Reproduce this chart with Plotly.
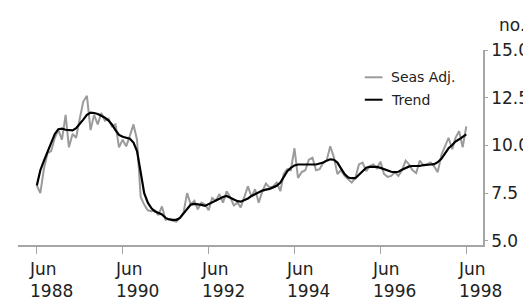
import pandas as pd
import plotly.graph_objects as go

# ---- data -------------------------------------------------------------
start_month = "1988-06-01"
n_months = 121
months = pd.date_range(start_month, periods=n_months, freq="MS")

seas_adj = [
    7.9, 7.5, 8.8, 9.6, 9.7, 10.4, 10.8, 10.3, 11.6, 9.9,
    10.6, 10.4, 11.4, 12.3, 12.6, 10.8, 11.6, 11.1, 11.7, 11.3,
    11.4, 11.0, 11.1, 9.9, 10.3, 9.95, 10.5, 11.1, 10.3, 7.3,
    6.9, 6.6, 6.55, 6.6, 6.35, 6.8, 6.1, 6.15, 6.05, 6.0,
    6.2, 6.5, 7.5, 6.9, 7.1, 6.65, 7.0, 6.9, 6.6, 7.25,
    7.1, 7.45, 7.0, 7.6, 7.3, 6.85, 7.0, 6.75, 7.3, 7.85,
    7.3, 7.7, 7.0, 7.6, 8.0, 7.8, 7.85, 8.05, 7.6, 8.5,
    8.75, 8.7, 9.85, 8.3, 8.6, 8.7, 9.25, 9.35, 8.7, 8.75,
    9.1, 9.2, 9.95, 9.4, 8.5, 8.7, 8.4, 8.2, 8.05, 8.3,
    9.0, 9.1, 8.65, 8.9, 9.0, 8.8, 9.15, 8.5, 8.35, 8.4,
    8.6, 8.4, 8.7, 9.2, 9.0, 8.7, 8.55, 9.2, 8.95, 9.0,
    9.1, 8.9, 8.6, 9.5, 9.9, 10.4, 9.8, 10.4, 10.75, 9.9,
    11.0,
]

trend = [
    7.9, 8.7, 9.2, 9.7, 10.1, 10.6, 10.85, 10.88, 10.82, 10.8,
    10.79, 10.9, 11.1, 11.35, 11.6, 11.72, 11.7, 11.65, 11.55, 11.45,
    11.3, 11.1, 10.8, 10.55, 10.45, 10.4, 10.35, 10.15, 9.7, 8.6,
    7.5, 7.0, 6.7, 6.55, 6.45, 6.38, 6.2, 6.12, 6.1, 6.1,
    6.2, 6.45, 6.65, 6.9, 6.93, 6.92, 6.88, 6.83, 6.92, 7.0,
    7.12, 7.22, 7.3, 7.35, 7.25, 7.17, 7.08, 7.05, 7.12, 7.22,
    7.35, 7.45, 7.55, 7.63, 7.68, 7.72, 7.8, 7.88, 8.05, 8.35,
    8.65, 8.82, 8.95, 9.0, 9.0, 9.0, 9.0, 9.0, 9.0, 9.05,
    9.1, 9.2, 9.27, 9.25, 9.1, 8.8, 8.5, 8.32, 8.28, 8.28,
    8.45, 8.65, 8.83, 8.88, 8.88, 8.87, 8.82, 8.75, 8.68, 8.62,
    8.6, 8.62, 8.72, 8.82, 8.9, 8.92, 8.92, 8.92, 8.97, 9.0,
    9.0, 9.02, 9.12, 9.3, 9.6, 9.85, 10.02, 10.2, 10.32, 10.45,
    10.58,
]

tick_dates = ["1988-06-01", "1990-06-01", "1992-06-01", "1994-06-01",
              "1996-06-01", "1998-06-01"]
tick_labels = ["Jun<br>1988", "Jun<br>1990", "Jun<br>1992", "Jun<br>1994",
               "Jun<br>1996", "Jun<br>1998"]
y_ticks = [5.0, 7.5, 10.0, 12.5, 15.0]

series_names = ["Seas Adj.", "Trend"]
series_colors = ["#9b9b9b", "#000000"]

# ---- figure -----------------------------------------------------------
FONT = "DejaVu Sans"
AXIS = "#a6a6a6"
TEXT = "#222222"

fig = go.Figure()
fig.add_trace(go.Scatter(x=months, y=seas_adj, mode="lines", name=series_names[0],
                         line=dict(color=series_colors[0], width=2), showlegend=False))
fig.add_trace(go.Scatter(x=months, y=trend, mode="lines", name=series_names[1],
                         line=dict(color=series_colors[1], width=2.2), showlegend=False))

fig.update_layout(
    width=531, height=300,
    margin=dict(l=10, r=49, t=42, b=63),
    paper_bgcolor="white", plot_bgcolor="white",
    font=dict(family=FONT, size=17, color=TEXT),
    showlegend=False,
)
fig.update_xaxes(
    type="date", range=["1987-12-24", "1998-10-21"],
    tickvals=tick_dates, showticklabels=False,
    ticks="outside", ticklen=7, tickwidth=1, tickcolor=AXIS,
    showline=True, linecolor=AXIS, linewidth=1.5,
    showgrid=False, zeroline=False,
)
fig.update_yaxes(
    side="right", range=[4.78, 15], tickvals=y_ticks, tickformat=".1f",
    ticks="outside", ticklen=3, tickwidth=1, tickcolor=AXIS,
    showline=True, linecolor=AXIS, linewidth=1.5,
    showgrid=False, zeroline=False,
    tickfont=dict(family=FONT, size=17, color=TEXT),
)

# x tick labels, left aligned under each tick
for d, t in zip(tick_dates, tick_labels):
    fig.add_annotation(x=d, y=0, xref="x", yref="paper", text=t, showarrow=False,
                       xanchor="left", yanchor="top", align="left", xshift=-10, yshift=-12,
                       font=dict(family=FONT, size=17, color=TEXT))

# unit label
fig.add_annotation(x=1, y=1, xref="paper", yref="paper", text="no.", showarrow=False,
                   xanchor="left", yanchor="bottom", xshift=14, yshift=13,
                   font=dict(family=FONT, size=17, color=TEXT))

# legend
leg_rows = [0.86, 0.745]
for name, color, yy in zip(series_names, series_colors, leg_rows):
    fig.add_shape(type="line", xref="paper", yref="paper", x0=0.7458, x1=0.7839,
                  y0=yy, y1=yy, line=dict(color=color, width=2))
    fig.add_annotation(x=0.797, y=yy, xref="paper", yref="paper", text=name,
                       showarrow=False, xanchor="left", yanchor="middle",
                       font=dict(family=FONT, size=14, color=TEXT))

fig.write_html("out.html")
